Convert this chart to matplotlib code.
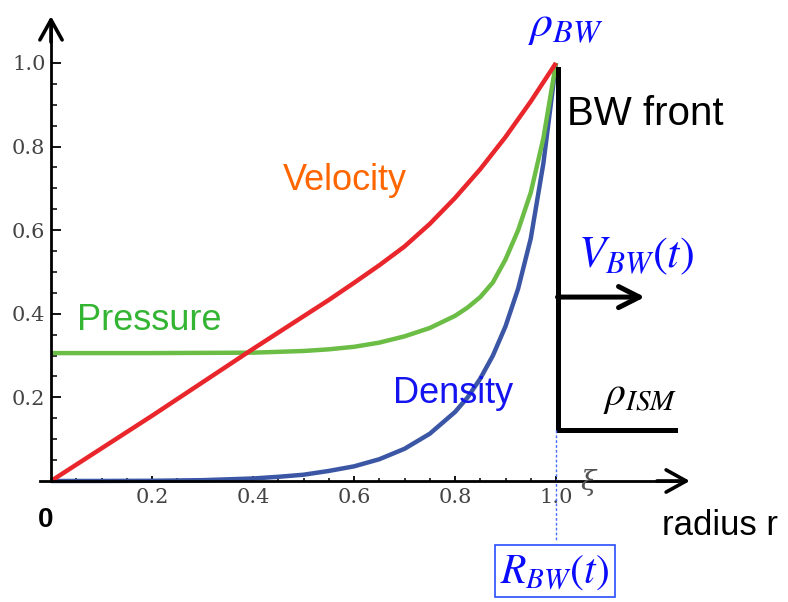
import numpy as np
import matplotlib
matplotlib.use('Agg')
import matplotlib.pyplot as plt
from matplotlib.ticker import FixedLocator, FixedFormatter

# Sedov-Taylor blast wave profiles (normalised to post-shock values)
xi_vel = [0.0, 0.05, 0.1, 0.15, 0.2, 0.25, 0.3, 0.35, 0.4, 0.45, 0.5, 0.55, 0.6, 0.65,
          0.7, 0.75, 0.8, 0.85, 0.9, 0.95, 1.0]
velocity = [0.0, 0.039, 0.078, 0.117, 0.156, 0.196, 0.236, 0.276, 0.316, 0.355, 0.394,
            0.433, 0.474, 0.516, 0.561, 0.615, 0.677, 0.746, 0.823, 0.908, 1.0]

xi_pres = [0.0, 0.2, 0.4, 0.45, 0.5, 0.55, 0.6, 0.65, 0.7, 0.75, 0.8, 0.825, 0.85,
           0.875, 0.9, 0.925, 0.95, 0.975, 1.0]
pressure = [0.306, 0.306, 0.307, 0.309, 0.311, 0.315, 0.321, 0.331, 0.346, 0.366, 0.395,
            0.415, 0.44, 0.475, 0.53, 0.6, 0.69, 0.82, 1.0]

xi_dens = [0.0, 0.1, 0.2, 0.3, 0.4, 0.45, 0.5, 0.55, 0.6, 0.65, 0.7, 0.75, 0.8, 0.825,
           0.85, 0.875, 0.9, 0.925, 0.95, 0.975, 1.0]
density = [0.0, 0.0001, 0.0005, 0.002, 0.006, 0.01, 0.015, 0.024, 0.035, 0.052, 0.077,
           0.113, 0.165, 0.2, 0.245, 0.30, 0.37, 0.46, 0.58, 0.76, 1.0]

tick_vals = [0.2, 0.4, 0.6, 0.8, 1.0]
tick_text = ['0.2', '0.4', '0.6', '0.8', '1.0']
minor_vals = [0.05, 0.1, 0.15, 0.25, 0.3, 0.35, 0.45, 0.5, 0.55, 0.65, 0.7, 0.75, 0.85, 0.9, 0.95]

# ISM level outside the front and the front position
rho_ism = 0.122
front = 1.0

plt.rcParams['mathtext.fontset'] = 'stix'
sans = 'Liberation Sans'

fig = plt.figure(figsize=(7.88, 6.02), dpi=100)
ax = fig.add_axes([0, 0, 1, 1])
ax.set_xlim(-0.101, 1.4594)
ax.set_ylim(-0.2895, 1.1507)

# axes through the origin, with arrow heads
for s in ['top', 'right']:
    ax.spines[s].set_visible(False)
ax.spines['left'].set_position(('data', 0))
ax.spines['bottom'].set_position(('data', 0))
ax.spines['left'].set_bounds(0, 1.09)
ax.spines['bottom'].set_bounds(-0.022, 1.24)
for s in ['left', 'bottom']:
    ax.spines[s].set_linewidth(2)
head = dict(arrowstyle='->,head_length=0.72,head_width=0.4', lw=2.6, color='k',
            mutation_scale=20, shrinkA=0, shrinkB=0)
ax.annotate('', xy=(0, 1.112), xytext=(0, 1.05), arrowprops=head)
ax.annotate('', xy=(1.265, 0), xytext=(1.2, 0), arrowprops=head)

ax.xaxis.set_major_locator(FixedLocator(tick_vals))
ax.xaxis.set_major_formatter(FixedFormatter(tick_text))
ax.yaxis.set_major_locator(FixedLocator(tick_vals))
ax.yaxis.set_major_formatter(FixedFormatter(tick_text))
ax.xaxis.set_minor_locator(FixedLocator(minor_vals))
ax.yaxis.set_minor_locator(FixedLocator(minor_vals))
ax.tick_params(axis='y', which='major', direction='in', length=7, width=1.3, pad=4,
               labelsize=15, labelcolor='#444444')
ax.tick_params(axis='y', which='minor', direction='in', length=4.3, width=1.1)
ax.tick_params(axis='x', which='major', direction='in', length=3.8, width=1.3, pad=5,
               labelsize=15, labelcolor='#444444')
ax.tick_params(axis='x', which='minor', direction='in', length=2.3, width=1.1)
for lab in ax.get_xticklabels() + ax.get_yticklabels():
    lab.set_fontfamily('DejaVu Serif')

# profiles
ax.plot(xi_dens, density, color='#3b56a5', lw=3.2, solid_capstyle='butt')
ax.plot(xi_pres, pressure, color='#6bbd45', lw=3.2, solid_capstyle='butt')
ax.plot(xi_vel, velocity, color='#e8262b', lw=3.2, solid_capstyle='butt')

# blast wave front and ISM
ax.plot([front + 0.003, front + 0.003, 1.236], [0.985, rho_ism, rho_ism],
        color='k', lw=3.6, solid_joinstyle='miter')
ax.annotate('', xy=(1.176, 0.44), xytext=(front + 0.003, 0.44),
            arrowprops=dict(arrowstyle='->,head_length=0.75,head_width=0.38', lw=3.6,
                            color='k', mutation_scale=20, shrinkA=0, shrinkB=0))
ax.plot([front, front], [rho_ism, -0.141], color='#4a6cff', lw=1, dashes=(2, 1.5))

# labels
ax.text(0.459, 0.696, 'Velocity', color='#ff6600', fontsize=26, family=sans)
ax.text(0.0515, 0.361, 'Pressure', color='#33b533', fontsize=26, family=sans)
ax.text(0.677, 0.187, 'Density', color='#1414f0', fontsize=26, family=sans)
ax.text(1.022, 0.852, 'BW front', color='k', fontsize=29, family=sans)
ax.text(1.21, -0.129, 'radius r', color='k', fontsize=25, family=sans)
ax.text(-0.01, -0.093, '0', color='k', fontsize=20, fontweight='bold', family=sans,
        ha='center', va='center')
ax.text(1.064, -0.003, 'ξ', color='#555555', fontsize=20, style='italic',
        family='DejaVu Serif', ha='center', va='center')
ax.text(0.945, 1.065, r'$\rho_{BW}$', color='#0a0aff', fontsize=33)
ax.text(1.044, 0.512, r'$V_{BW}(t)$', color='#0a0aff', fontsize=32)
ax.text(1.093, 0.182, r'$\rho_{ISM}$', color='k', fontsize=30)
ax.text(0.998, -0.244, r'$R_{BW}(t)$', color='#0a0aff', fontsize=30, ha='center',
        bbox=dict(boxstyle='square,pad=0.12', fc='white', ec='#2a4dff', lw=1.2))

fig.savefig('out.png', dpi=100)
